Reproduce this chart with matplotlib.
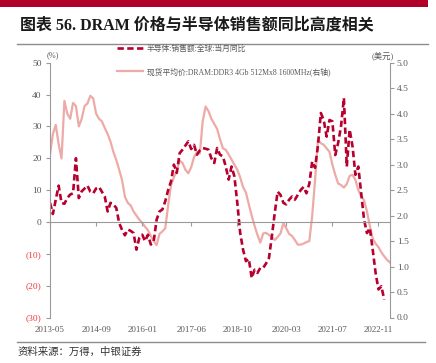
import numpy as np
import matplotlib
matplotlib.use('Agg')
import matplotlib.pyplot as plt
from matplotlib.lines import Line2D
from matplotlib.patches import Rectangle

plt.rcParams['font.family'] = ['Liberation Serif', 'Noto Sans CJK SC']

# 月度数据, 从 2013-05 开始
semi_yoy = [6.0, 2.5, 7.0, 11.4, 6.0, 5.7, 7.5, 8.6, 9.0, 20.0,
            7.5, 9.6, 10.5, 11.4, 9.5, 9.0, 10.5, 11.0, 9.5, 8.0,
            3.3, 6.0, 5.5, 4.4, -0.3, -2.5, -4.2, -2.4, -2.8, -3.5,
            -8.7, -5.0, -4.0, -6.0, -4.0, -7.1, -6.0, 0.7, 3.3, 3.9,
            6.5, 10.0, 12.7, 18.0, 15.4, 21.6, 22.7, 24.0, 25.3, 22.9,
            24.2, 21.1, 22.5, 23.2, 23.0, 22.7, 20.0, 18.5, 23.2, 21.1,
            20.6, 17.4, 13.3, 17.4, 14.3, 6.0, -3.4, -8.7, -12.3, -11.6,
            -17.6, -15.0, -16.0, -14.4, -14.4, -13.0, -11.3, -4.5, 2.8, 9.5,
            8.5, 6.0, 5.5, 7.0, 8.0, 7.0, 8.5, 10.0, 11.0, 9.0,
            12.0, 19.0, 17.0, 24.0, 34.2, 32.0, 26.8, 32.0, 31.6, 21.0,
            24.8, 30.0, 38.9, 17.4, 29.0, 23.7, 14.8, 17.4, 9.0, 0.7,
            -3.5, -1.9, -8.7, -16.0, -21.2, -20.2, -24.4]

dram_price = [3.2, 3.6, 3.78, 3.4, 3.12, 4.25, 4.0, 3.9, 4.21, 4.15,
              3.75, 3.9, 4.15, 4.2, 4.35, 4.3, 4.0, 3.9, 3.85, 3.72,
              3.6, 3.45, 3.25, 3.09, 2.9, 2.7, 2.37, 2.25, 2.2, 2.08,
              2.0, 1.92, 1.86, 1.78, 1.71, 1.6, 1.5, 1.42, 1.64, 1.69,
              1.75, 2.2, 2.6, 2.75, 2.89, 3.08, 3.03, 2.9, 2.83, 2.95,
              3.15, 3.25, 3.22, 3.85, 4.14, 4.05, 3.9, 3.8, 3.7, 3.5,
              3.32, 3.29, 3.2, 3.1, 3.0, 2.9, 2.75, 2.56, 2.45, 2.22,
              2.0, 1.8, 1.62, 1.47, 1.65, 1.66, 1.62, 1.58, 1.52, 1.58,
              1.65, 1.85, 1.75, 1.64, 1.6, 1.52, 1.43, 1.43, 1.45, 1.48,
              1.5, 2.0, 2.7, 3.49, 3.42, 3.39, 3.32, 3.25, 3.0, 2.8,
              2.63, 2.6, 2.55, 2.62, 2.78, 2.8, 2.7, 2.5, 2.38, 2.3,
              2.08, 1.8, 1.55, 1.45, 1.38, 1.28, 1.2, 1.13, 1.08]

tick_labels = ['2013-05', '2014-09', '2016-01', '2017-06',
               '2018-10', '2020-03', '2021-07', '2022-11']
left_ticks = [-30, -20, -10, 0, 10, 20, 30, 40, 50]
right_ticks = [0.0, 0.5, 1.0, 1.5, 2.0, 2.5, 3.0, 3.5, 4.0, 4.5, 5.0]

semi_label = '半导体:销售额:全球:当月同比'
dram_label = '现货平均价:DRAM:DDR3 4Gb 512Mx8 1600MHz(右轴)'
title = '图表 56. DRAM 价格与半导体销售额同比高度相关'
source = '资料来源：万得，中银证券'

gray = '#595959'
red_dash = '#B8002E'
pink = '#EDAAA6'

def month_index(s):
    y, m = s.split('-')
    return (int(y) - 2013) * 12 + int(m) - 5

W, H = 436, 363
fig = plt.figure(figsize=(W / 100, H / 100), dpi=100)

# 顶部红条与分隔线
fig.add_artist(Rectangle((0, 1 - 7 / H), 428 / W, 7 / H, transform=fig.transFigure,
                         color='#B0002A', lw=0))
fig.add_artist(Line2D([17 / W, 428 / W], [1 - 44 / H] * 2, color='#8C8C8C', lw=1))
fig.add_artist(Line2D([17 / W, 425 / W], [1 - 342 / H] * 2, color='#8C8C8C', lw=1))
fig.text(20 / W, 1 - 25 / H, title, fontsize=11.5, fontweight='bold',
         va='center', ha='left', color='#1a1a1a')
fig.text(18 / W, 1 - 352 / H, source, fontsize=7.5, va='center', ha='left',
         color='#333333', style='italic')

ax = fig.add_axes([50 / W, 1 - 317.5 / H, 340 / W, (317.5 - 62.7) / H])
ax2 = ax.twinx()

x1 = np.arange(len(semi_yoy))
x2 = np.arange(len(dram_price))
l2, = ax2.plot(x2, dram_price, color=pink, lw=1.6)
l1, = ax.plot(x1, semi_yoy, color=red_dash, lw=1.9, dashes=(2.4, 1.3))

ax.set_zorder(ax2.get_zorder() + 1)
ax.patch.set_visible(False)

ax.set_xlim(0, len(dram_price) - 1)
ax.set_ylim(-30, 50)
ax2.set_ylim(0, 5)

ax.spines['top'].set_visible(False)
ax2.spines['top'].set_visible(False)
ax.spines['right'].set_visible(False)
ax2.spines['left'].set_visible(False)
ax2.spines['bottom'].set_visible(False)
ax.spines['left'].set_color('#9A9A9A')
ax2.spines['right'].set_color('#9A9A9A')
ax.spines['bottom'].set_position(('data', 0))
ax.spines['bottom'].set_color('#9A9A9A')

xt = [month_index(s) for s in tick_labels]
ax.set_xticks(xt)
ax.tick_params(axis='x', length=3, color='#9A9A9A', labelbottom=False)
sec = ax.secondary_xaxis('bottom')
sec.set_xticks(xt, labels=tick_labels)
sec.spines['bottom'].set_visible(False)
sec.tick_params(length=0, pad=6, labelsize=6.5, labelcolor=gray)

ax.set_yticks(left_ticks)
ax.set_yticklabels(['(%d)' % -v if v < 0 else '%d' % v for v in left_ticks])
ax.tick_params(axis='y', length=3, color='#9A9A9A', labelsize=6.8, labelcolor=gray, pad=3)
for v, lab in zip(left_ticks, ax.get_yticklabels()):
    if v < 0:
        lab.set_color('#EE3B3B')

ax2.set_yticks(right_ticks)
ax2.set_yticklabels(['%.1f' % v for v in right_ticks])
ax2.tick_params(axis='y', length=3, color='#9A9A9A', labelsize=6.8, labelcolor=gray, pad=2)

fig.text(53 / W, 1 - 55 / H, '(%)', fontsize=6, ha='center', va='center', color=gray)
fig.text(383 / W, 1 - 57 / H, '(美元)', fontsize=6, ha='center', va='center', color=gray)

fig.legend([l1, l2], [semi_label, dram_label], loc='upper left',
           bbox_to_anchor=(110 / W, 1 - 38 / H), frameon=False, fontsize=5.6,
           handlelength=3.3, handletextpad=0.5, labelspacing=1.8, labelcolor=gray)

fig.savefig('out.png', dpi=100)
